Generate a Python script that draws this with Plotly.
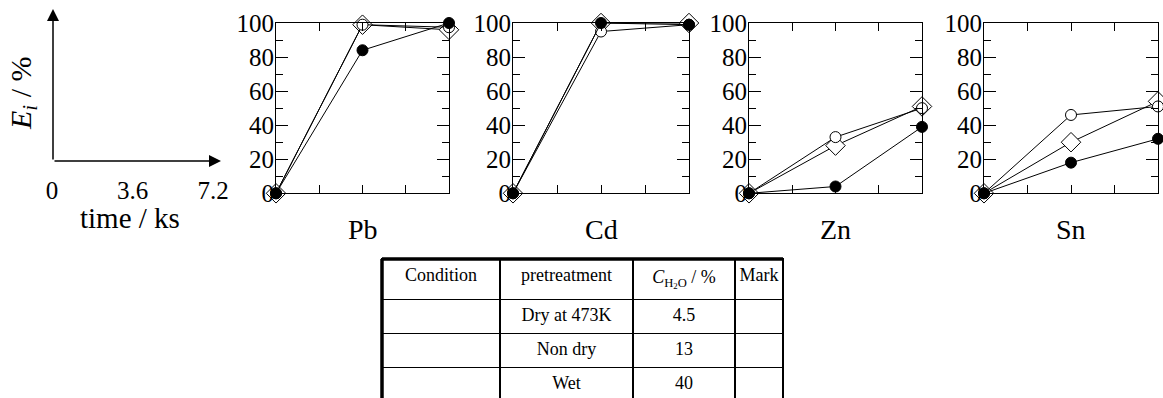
import plotly.graph_objects as go

W, H = 1163, 398

# ---------------- data ----------------
time_ks = [0, 3.6, 7.2]
metals = ["Pb", "Cd", "Zn", "Sn"]
# extraction E_i / % per series and metal
diamond = {"Pb": [0, 99, 96], "Cd": [0, 100, 100], "Zn": [0, 28, 51], "Sn": [0, 30, 54]}
open_circle = {"Pb": [0, 99, 97.5], "Cd": [0, 95, 99], "Zn": [0, 33, 50], "Sn": [0, 46, 51]}
filled_circle = {"Pb": [0, 84, 100], "Cd": [0, 100, 99], "Zn": [0, 4, 39], "Sn": [0, 18, 32]}

table_header = ["Condition", "pretreatment", "<i>C</i><sub>H<sub>2</sub>O</sub> / %", "Mark"]
condition_col = ["", "", ""]
pretreatment_col = ["Dry at 473K", "Non dry", "Wet"]
water_col = ["4.5", "13", "40"]
mark_col = ["", "", ""]

schematic_ticks = [0, 3.6, 7.2]
schematic_ticktext = ["0", "3.6", "7.2"]

# ---------------- layout helpers ----------------
def px(x):
    return x / W

def py(y):
    return 1 - y / H

FONT = "Liberation Serif, Times New Roman, serif"
panel_x = {"Pb": (276, 449), "Cd": (513, 689), "Zn": (749, 922), "Sn": (984, 1158)}
panel_top, panel_bot = 23, 193.3

fig = go.Figure()

series = [
    ("Non dry", diamond, dict(symbol="diamond", size=15, color="white", line=dict(color="black", width=1))),
    ("Wet", open_circle, dict(symbol="circle", size=11, color="white", line=dict(color="black", width=1))),
    ("Dry at 473K", filled_circle, dict(symbol="circle", size=11, color="black", line=dict(color="black", width=1))),
]

layout_axes = {}
annotations = []
for i, m in enumerate(metals, start=1):
    xa = "x" if i == 1 else f"x{i}"
    ya = "y" if i == 1 else f"y{i}"
    for name, d, mk in series:
        fig.add_trace(go.Scatter(
            x=time_ks, y=d[m], mode="lines+markers", name=name,
            line=dict(color="black", width=1), marker=mk,
            xaxis=xa, yaxis=ya, showlegend=False, cliponaxis=False,
        ))
    x0, x1 = panel_x[m]
    layout_axes[f"xaxis{'' if i == 1 else i}"] = dict(
        domain=[px(x0), px(x1)], range=[0, 7.2], anchor=ya, automargin=False,
        showline=True, linecolor="black", linewidth=1, mirror="allticks",
        ticks="inside", ticklen=8, tickcolor="black", tickwidth=1,
        tickvals=[3.6], showticklabels=False, showgrid=False, zeroline=False,
        minor=dict(tickvals=[1.8, 5.4], ticks="inside", ticklen=8, tickcolor="black", tickwidth=1, showgrid=False),
    )
    layout_axes[f"yaxis{'' if i == 1 else i}"] = dict(
        domain=[py(panel_bot), py(panel_top)], range=[0, 100], anchor=xa, automargin=False,
        showline=True, linecolor="black", linewidth=1, mirror="allticks",
        ticks="inside", ticklen=12, tickcolor="black", tickwidth=1,
        dtick=20, tick0=0, showgrid=False, zeroline=False,
        tickfont=dict(family=FONT, size=25, color="black"), ticklabelstandoff=-4,
        minor=dict(dtick=10, tick0=0, ticks="inside", ticklen=7, tickcolor="black", tickwidth=1, showgrid=False),
    )
    annotations.append(dict(
        text=m, xref=f"{xa} domain", x=0.5, yref="paper", y=py(230),
        showarrow=False, font=dict(family=FONT, size=28, color="black"),
        xanchor="center", yanchor="middle",
    ))

# schematic axis (left)
fig.add_trace(go.Scatter(x=[None], y=[None], xaxis="x5", yaxis="y5", showlegend=False))
layout_axes["xaxis5"] = dict(
    domain=[px(52), px(213)], range=[0, 7.2], anchor="y5", automargin=False,
    showline=False, showgrid=False, zeroline=False,
    tickvals=schematic_ticks, ticktext=schematic_ticktext,
    ticks="outside", ticklen=7, tickcolor="rgba(0,0,0,0)",
    tickfont=dict(family=FONT, size=25, color="black"),
)
layout_axes["yaxis5"] = dict(
    domain=[py(161), py(10)], range=[0, 100], anchor="x5", visible=False, automargin=False,
)
annotations += [
    dict(x=px(221), y=py(161), xref="paper", yref="paper", ax=-168, ay=0,
         showarrow=True, arrowhead=2, arrowsize=1.6, arrowwidth=1.5, arrowcolor="black", text=""),
    dict(x=px(53), y=py(9), xref="paper", yref="paper", ax=0, ay=152,
         showarrow=True, arrowhead=2, arrowsize=1.6, arrowwidth=1.5, arrowcolor="black", text=""),
    dict(text="<i>E<sub>i</sub></i> / %", x=px(23), y=py(93), xref="paper", yref="paper",
         textangle=-90, showarrow=False, font=dict(family=FONT, size=30, color="black"),
         xanchor="center", yanchor="middle"),
    dict(text="time / ks", x=px(130), y=py(218), xref="paper", yref="paper",
         showarrow=False, font=dict(family=FONT, size=29, color="black"),
         xanchor="center", yanchor="middle"),
]

# table
t_left, t_right, t_top = 382, 783, 259
fig.add_trace(go.Table(
    domain=dict(x=[px(t_left), px(t_right)], y=[0, py(t_top)]),
    columnwidth=[118, 133, 102, 48],
    header=dict(values=table_header, height=33, align="center",
                font=dict(family=FONT, size=18, color="black"),
                fill_color="white", line=dict(color="black", width=1.5)),
    cells=dict(values=[condition_col, pretreatment_col, water_col, mark_col], height=34,
               align="center", font=dict(family=FONT, size=18, color="black"),
               fill_color="white", line=dict(color="black", width=1.5)),
))
shapes = [
    dict(type="line", xref="paper", yref="paper", x0=px(t_left), x1=px(t_right), y0=py(t_top), y1=py(t_top),
         line=dict(color="black", width=3.5)),
    dict(type="line", xref="paper", yref="paper", x0=px(t_left), x1=px(t_left), y0=py(t_top), y1=0,
         line=dict(color="black", width=3.5)),
]

fig.update_layout(
    template="none",
    width=W, height=H, margin=dict(l=0, r=0, t=0, b=0, pad=0),
    paper_bgcolor="white", plot_bgcolor="white",
    annotations=annotations, shapes=shapes, **layout_axes,
)
fig.write_html("out.html")
